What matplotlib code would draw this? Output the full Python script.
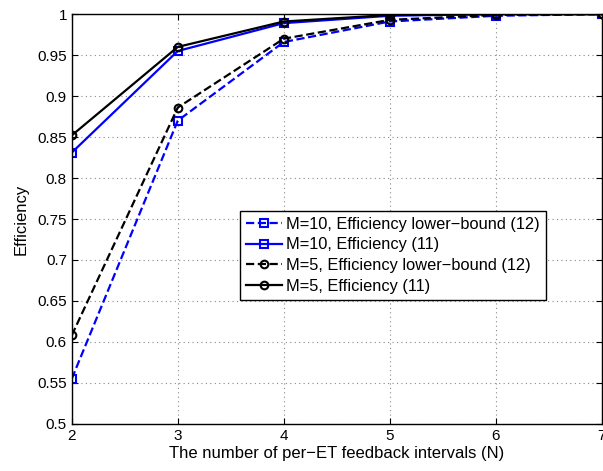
import matplotlib
matplotlib.use("Agg")
import matplotlib.pyplot as plt

plt.rcParams['font.family'] = ['Liberation Sans', 'DejaVu Sans']

N = [2, 3, 4, 5, 6, 7]
m10_lower = [0.555, 0.870, 0.966, 0.991, 0.998, 1.0]
m10_eff = [0.831, 0.955, 0.989, 0.998, 1.0, 1.0]
m5_lower = [0.608, 0.886, 0.970, 0.993, 0.999, 1.0]
m5_eff = [0.852, 0.960, 0.991, 0.999, 1.0, 1.0]
labels = ["M=10, Efficiency lower\u2212bound (12)", "M=10, Efficiency (11)",
          "M=5, Efficiency lower\u2212bound (12)", "M=5, Efficiency (11)"]

fig = plt.figure(figsize=(6.03, 4.71), dpi=100)
ax = fig.add_axes([0.119, 0.100, 0.879, 0.870])

ax.plot(N, m10_lower, '--s', color='#0000ff', lw=1.6, ms=6, mfc='none', mew=1.5, label=labels[0])
ax.plot(N, m10_eff, '-s', color='#0000ff', lw=1.6, ms=6, mfc='none', mew=1.5, label=labels[1])
ax.plot(N, m5_lower, '--o', color='black', lw=1.6, ms=5.5, mfc='none', mew=1.5, label=labels[2])
ax.plot(N, m5_eff, '-o', color='black', lw=1.6, ms=5.5, mfc='none', mew=1.5, label=labels[3])

ax.set_xlim(2, 7)
ax.set_ylim(0.5, 1.0)
ax.set_xticks(N)
ax.set_yticks([0.5, 0.55, 0.6, 0.65, 0.7, 0.75, 0.8, 0.85, 0.9, 0.95, 1.0])
ax.set_yticklabels(['0.5', '0.55', '0.6', '0.65', '0.7', '0.75', '0.8', '0.85', '0.9', '0.95', '1'])
ax.grid(True, linestyle=(0, (1, 3)), color='#888888', linewidth=0.8)
ax.tick_params(direction='in', labelsize=11, length=4, top=True, right=True)
for s in ax.spines.values():
    s.set_linewidth(1.0)

ax.set_xlabel("The number of per\u2212ET feedback intervals (N)", fontsize=12, labelpad=2)
ax.set_ylabel("Efficiency", fontsize=12, labelpad=6)

leg = ax.legend(loc='upper left', bbox_to_anchor=(0.317, 0.52), fontsize=11.8, fancybox=False,
                edgecolor='black', framealpha=1, handlelength=2.2, handletextpad=0.3,
                borderpad=0.35, labelspacing=0.35, borderaxespad=0)
leg.get_frame().set_linewidth(1.0)

fig.savefig("out.png", dpi=100)
